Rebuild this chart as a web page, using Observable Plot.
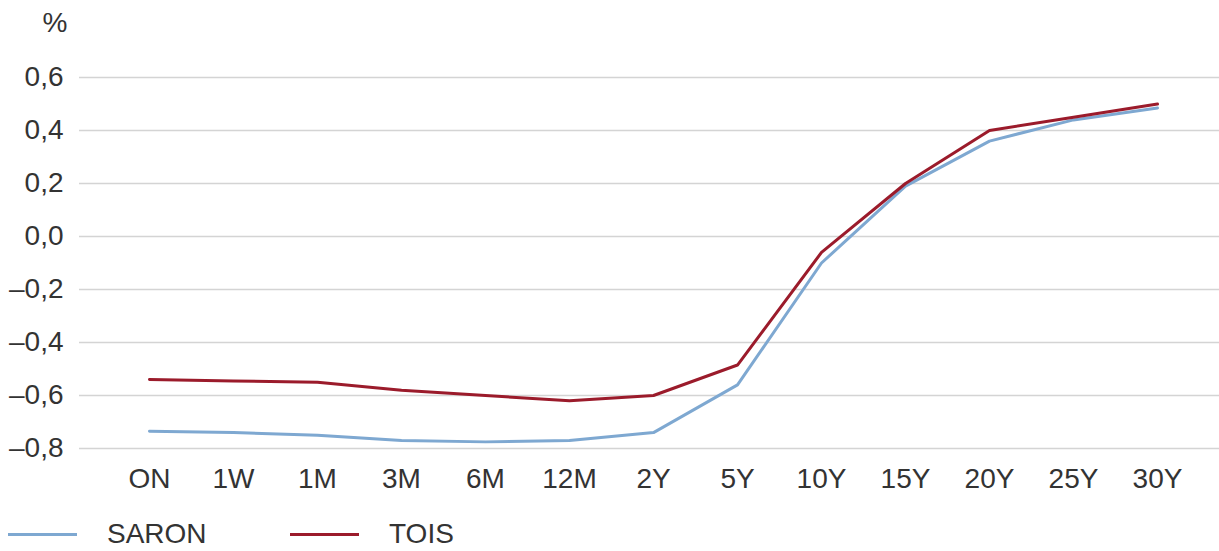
<!DOCTYPE html>
<html>
<head>
<meta charset="utf-8">
<script src="https://cdn.jsdelivr.net/npm/d3@7"></script>
<script src="https://cdn.jsdelivr.net/npm/@observablehq/plot@0.6"></script>
<style>
  html, body { margin: 0; padding: 0; background: #fff; }
  body { font-family: "Liberation Sans", Arial, sans-serif; color: #333; }
  #legend { position: relative; height: 51px; width: 1219px; font-size: 28px; }
  .li { position: absolute; top: 17px; display: flex; align-items: center; height: 34px; }
  .sw { display: inline-block; height: 3px; width: 69px; }
  .lt { margin-left: 30px; line-height: 34px; }
</style>
</head>
<body>
<div id="chart"></div>
<div id="legend"></div>
<script>
const tenors = ["ON","1W","1M","3M","6M","12M","2Y","5Y","10Y","15Y","20Y","25Y","30Y"];
const saron = [-0.735,-0.74,-0.75,-0.77,-0.775,-0.77,-0.74,-0.56,-0.10,0.19,0.36,0.44,0.485];
const tois  = [-0.54,-0.545,-0.55,-0.58,-0.60,-0.62,-0.60,-0.485,-0.06,0.20,0.40,0.45,0.50];
const yTicks = [-0.8,-0.6,-0.4,-0.2,0.0,0.2,0.4,0.6];
const seriesNames = ["SARON","TOIS"];
const seriesColors = ["#7ea8d1","#9b1b2b"];

const rows = [];
tenors.forEach((t,i) => {
  rows.push({tenor: t, value: saron[i], series: "SARON"});
  rows.push({tenor: t, value: tois[i], series: "TOIS"});
});

const fmt = v => (v < 0 ? "\u2013" : "") + Math.abs(v).toFixed(1).replace(".", ",");

const chart = Plot.plot({
  width: 1219,
  height: 500,
  marginLeft: 79,
  marginRight: 0,
  marginTop: 77,
  marginBottom: 52,
  style: {fontFamily: "'Liberation Sans', Arial, sans-serif", fontSize: "28px", color: "#333", background: "#fff"},
  x: {type: "point", domain: tenors, range: [148, 1157], padding: 0, label: null},
  y: {domain: [-0.8, 0.6], label: null},
  color: {domain: seriesNames, range: seriesColors},
  marks: [
    Plot.ruleY(yTicks, {stroke: "#d4d4d4", strokeWidth: 1.6}),
    Plot.axisY(yTicks, {tickSize: 0, tickPadding: 16, tickFormat: fmt, fontSize: 28, label: null}),
    Plot.axisX({tickSize: 0, tickPadding: 20, fontSize: 28, label: null}),
    Plot.text(["%"], {frameAnchor: "top-left", dx: -12, dy: -65, textAnchor: "end", fontSize: 28}),
    Plot.line(rows, {x: "tenor", y: "value", z: "series", stroke: "series", strokeWidth: 3})
  ]
});
document.getElementById("chart").appendChild(chart);

const legend = document.getElementById("legend");
const legendX = [8, 290];
seriesNames.forEach((n, i) => {
  const d = document.createElement("div");
  d.className = "li";
  d.style.left = legendX[i] + "px";
  d.innerHTML = `<span class="sw" style="background:${seriesColors[i]}"></span><span class="lt">${n}</span>`;
  legend.appendChild(d);
});
</script>
</body>
</html>
